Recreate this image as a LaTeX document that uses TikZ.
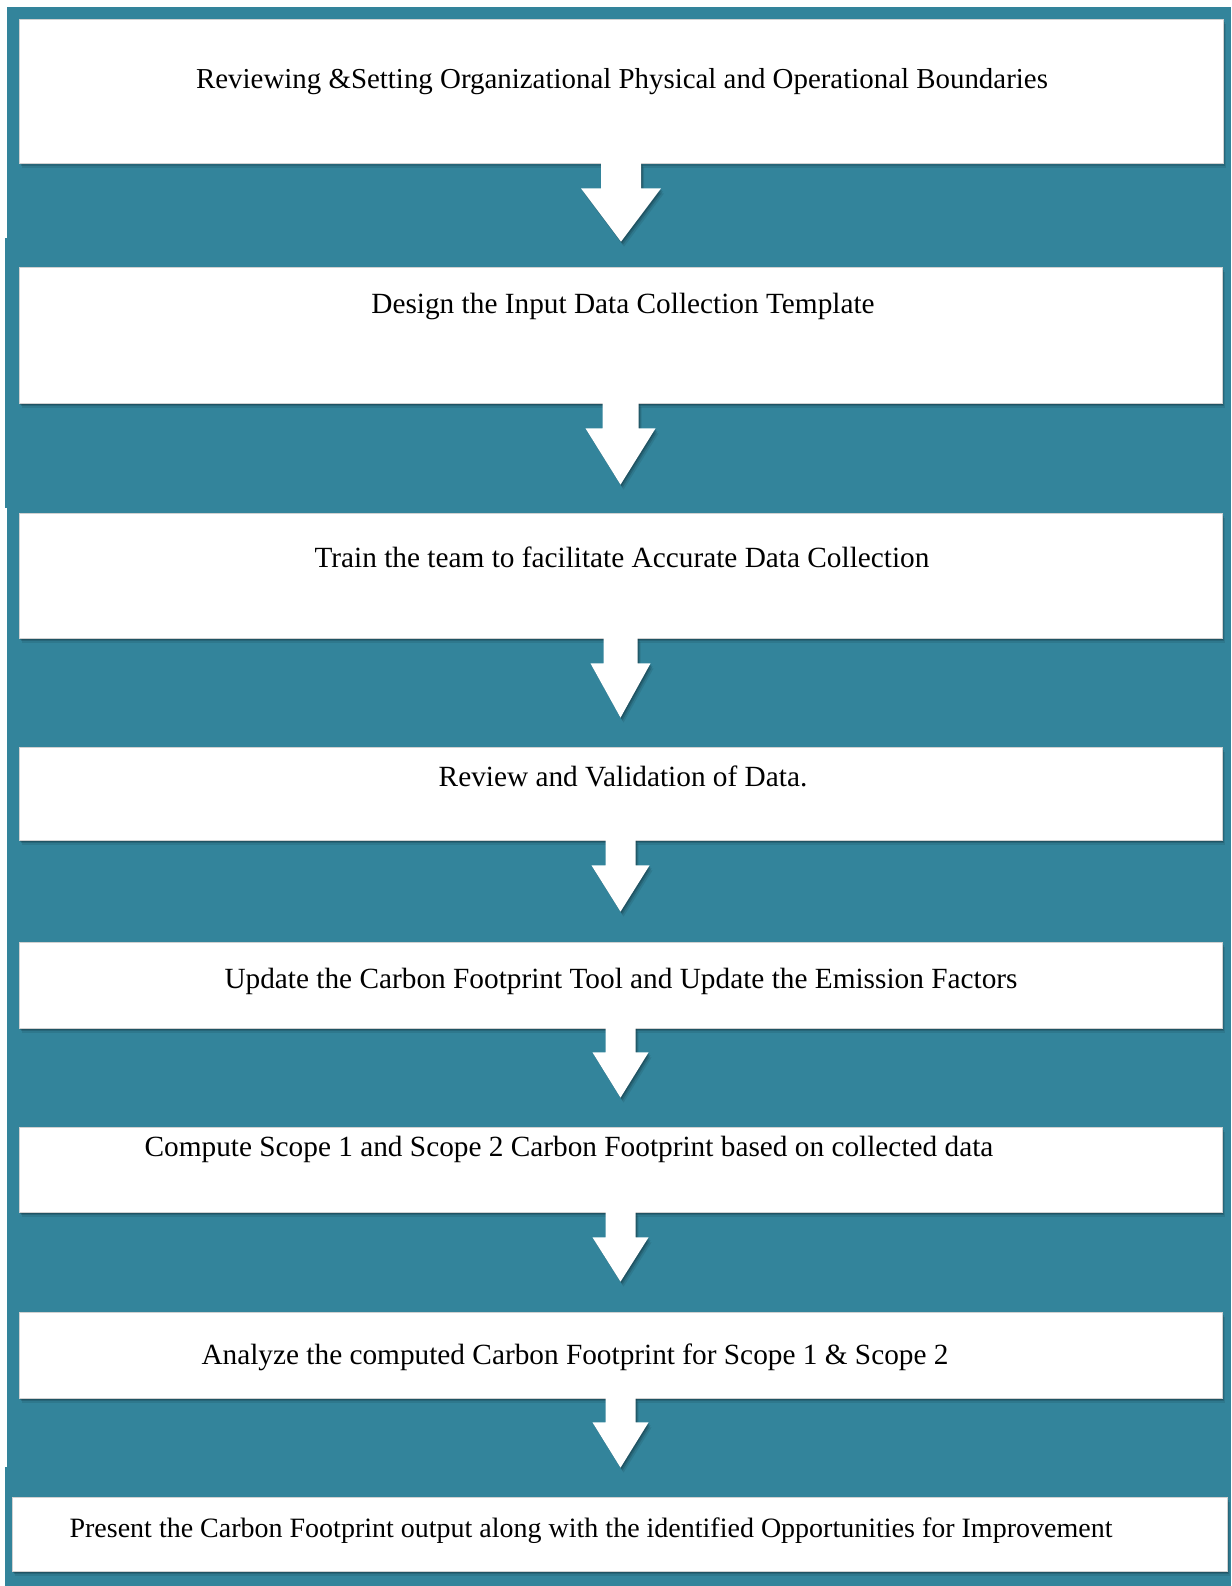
\documentclass[tikz,border=0pt]{standalone}
\usepackage{fontspec}
\setmainfont{Liberation Serif}
\usetikzlibrary{calc,shadows}
\definecolor{tealbg}{RGB}{51,132,155}
\tikzset{
  softshadow/.style={
    general shadow={fill=black,opacity=0.18,shadow xshift=1pt,shadow yshift=-1.5pt},
    general shadow={fill=black,opacity=0.14,shadow xshift=2pt,shadow yshift=-3pt},
    general shadow={fill=black,opacity=0.09,shadow xshift=3pt,shadow yshift=-5pt}},
  stepbox/.style={rectangle, fill=white, draw=black!18, line width=0.8pt, inner sep=0pt, softshadow},
  steptext/.style={anchor=base, inner sep=0pt, text=black, font=\fontsize{29.3}{34}\selectfont},
  blockarrow/.style={fill=white, softshadow}
}
% from, to, shaft half width, head half width, shaft length, tip gap
\newcommand\blkarrow[6]{%
  \fill[blockarrow] ($(#1.south)+(-#3,-1)$) -- ($(#1.south)+(-#3,#5)$) -- ($(#1.south)+(-#4,#5)$)
    -- ($(#1.south|-#2.north)+(0,-#6)$) -- ($(#1.south)+(#4,#5)$) -- ($(#1.south)+(#3,#5)$)
    -- ($(#1.south)+(#3,-1)$) -- cycle;}
\begin{document}
\begin{tikzpicture}[x=1pt,y=-1pt]
\useasboundingbox (0,0) rectangle (1231,1586);
\fill[white] (0,0) rectangle (1231,1586);
\fill[tealbg] (7,7) rectangle (1231,1586);
\fill[tealbg] (5,238) rectangle (8,508);
\fill[tealbg] (5,1467) rectangle (8,1586);

\node[stepbox, minimum width=1204pt, minimum height=144pt] (b1) at (621,91) {};
\node[stepbox, minimum width=1203pt, minimum height=136pt] (b2) at (620.5,335) {};
\node[stepbox, minimum width=1203pt, minimum height=125pt] (b3) at (620.5,575.5) {};
\node[stepbox, minimum width=1203pt, minimum height=93pt] (b4) at (620.5,793.5) {};
\node[stepbox, minimum width=1203pt, minimum height=86pt] (b5) at (620.5,985) {};
\node[stepbox, minimum width=1203pt, minimum height=85pt] (b6) at (620.5,1169.5) {};
\node[stepbox, minimum width=1203pt, minimum height=86pt] (b7) at (620.5,1355) {};
\node[stepbox, minimum width=1215pt, minimum height=74pt] (b8) at (619.5,1534) {};

\blkarrow{b1}{b2}{20}{40}{25}{25}
\blkarrow{b2}{b3}{18}{35}{25}{28}
\blkarrow{b3}{b4}{17}{30}{25}{29}
\blkarrow{b4}{b5}{15}{29}{25}{30}
\blkarrow{b5}{b6}{15}{28}{24}{29}
\blkarrow{b6}{b7}{15}{28}{25}{30}
\blkarrow{b7}{b8}{15}{28}{24}{29}

\node[steptext, font=\fontsize{28.9}{34}\selectfont] (t1) at (622,89) {Reviewing \&Setting Organizational Physical and Operational Boundaries};
\node[steptext] (t2) at (623,313) {Design the Input Data Collection Template};
\node[steptext] (t3) at (622,567) {Train the team to facilitate Accurate Data Collection};
\node[steptext] (t4) at (623,786) {Review and Validation of Data.};
\node[steptext] (t5) at (621,988) {Update the Carbon Footprint Tool and Update the Emission Factors};
\node[steptext] (t6) at (569,1156) {Compute Scope 1 and Scope 2 Carbon Footprint based on collected data};
\node[steptext] (t7) at (575,1364) {Analyze the computed Carbon Footprint for Scope 1 \& Scope 2};
\node[steptext, font=\fontsize{28}{33}\selectfont] (t8) at (591,1537) {Present the Carbon Footprint output along with the identified Opportunities for Improvement};
\end{tikzpicture}
\end{document}
